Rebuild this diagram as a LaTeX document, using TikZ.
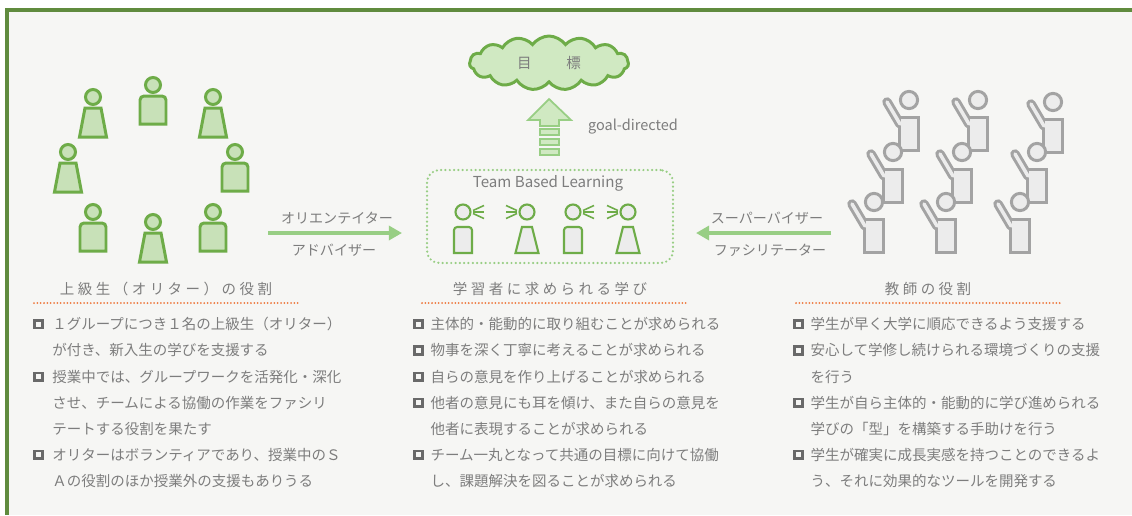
\documentclass[tikz,border=0pt]{standalone}
\usepackage{fontspec}
\setmainfont{Noto Sans CJK JP}
\newfontfamily\spacedfont[LetterSpace=24]{Noto Sans CJK JP}
\usepackage{xcolor}
\usetikzlibrary{shapes.symbols,arrows.meta,positioning}

\definecolor{frame}{RGB}{96,139,62}
\definecolor{paper}{RGB}{246,246,244}
\definecolor{leaf}{RGB}{110,172,72}
\definecolor{leaflight}{RGB}{200,225,184}
\definecolor{mint}{RGB}{152,206,132}
\definecolor{mintlight}{RGB}{208,233,194}
\definecolor{ink}{RGB}{125,125,125}
\definecolor{stone}{RGB}{163,163,163}
\definecolor{stonelight}{RGB}{236,236,236}
\definecolor{dots}{RGB}{238,122,64}
\definecolor{markgray}{RGB}{105,105,105}

% hollow square used in front of each item
\newcommand{\sqmark}{\raisebox{1.7pt}{\setlength{\fboxsep}{0pt}\setlength{\fboxrule}{1.5pt}%
  \fcolorbox{markgray}{paper}{\rule{0pt}{2.8pt}\rule{2.8pt}{0pt}}}}

\tikzset{
  % people, head centre at the pic origin
  boy/.pic={
    \path[pic actions] (0,0) circle (7.5);
    \path[pic actions] (-13,39) [rounded corners=2.3pt] -- (-13,11) -- (13,11) [sharp corners] -- (13,39) -- cycle;
  },
  girl/.pic={
    \path[pic actions] (0,0) circle (7.5);
    \path[pic actions] (-8,11) -- (8,11) -- (13.5,40) -- (-13.5,40) -- cycle;
  },
  sboy/.pic={
    \path[pic actions] (0,0) circle (7.5);
    \path[pic actions] (-9,41) [rounded corners=1.8pt] -- (-9,15) -- (9,15) [sharp corners] -- (9,41) -- cycle;
  },
  sgirl/.pic={
    \path[pic actions] (0,0) circle (7.5);
    \path[pic actions] (-5,15) -- (5,15) -- (11.5,41) -- (-11.5,41) -- cycle;
  },
  % teacher with a raised hand
  teacher/.pic={
    \draw[stone, line width=5.4pt, line cap=round] (-9,24) -- (-22,2);
    \fill[stone] (-11,15.5) rectangle (11,52);
    \draw[stonelight, line width=2pt, line cap=round] (-9,24) -- (-22,2);
    \fill[stonelight] (-8,18.5) rectangle (8,49);
    \filldraw[fill=stonelight, draw=stone, line width=1.7pt] (0,0) circle (8.6);
  },
}

\begin{document}
\begin{tikzpicture}[
    x=0.02cm, y=-0.02cm,
    every node/.style={font=\fontsize{8.25pt}{14.86pt}\selectfont, text=ink},
    ring/.style={draw=leaf, fill=leaflight, line width=1.7pt},
    team/.style={draw=leaf, fill=stonelight, line width=1.2pt},
    talk/.style={leaf, line width=0.9pt},
    feed/.style={mint, line width=2.3pt, -{Triangle[length=7.5pt, width=8pt]}},
    lbl/.style={font=\fontsize{8pt}{10pt}\selectfont},
    tblbox/.style={draw=mint, line width=1.4pt, dash pattern=on 0pt off 2.45pt, line cap=round,
      rounded corners=7pt, minimum width=4.92cm, minimum height=1.86cm},
    goalcloud/.style={cloud, cloud puffs=15, cloud puff arc=110, aspect=2.8, draw=leaf, fill=mintlight,
      line width=1.7pt, minimum width=3.18cm, minimum height=1.08cm, inner sep=0pt},
    heading/.style={font=\spacedfont\fontsize{8.25pt}{10pt}\selectfont},
    rule/.style={dots, line width=1.15pt, dash pattern=on 0pt off 1.9pt, line cap=round},
    items/.style={anchor=north west, inner sep=0pt, align=left}
  ]
  \useasboundingbox (0,0) rectangle (1132,515);
  \fill[white] (0,0) rectangle (1132,515);
  \fill[paper] (9,11.5) rectangle (1132,515);
  \fill[frame] (5,8) rectangle (1132,11.5);
  \fill[frame] (5,8) rectangle (9,515);

  % upper-year students in a ring
  \foreach \x/\y in {153/85, 235/152, 93/212, 213/212}
    \pic[ring] at (\x,\y) {boy};
  \foreach \x/\y in {93/97, 213/97, 68/152, 153/222}
    \pic[ring] at (\x,\y) {girl};

  % teaching staff
  \foreach \x/\y in {909/100, 978/100, 1053/102, 893/152, 962/152, 1037/152, 874/202, 946/202, 1020/202}
    \pic at (\x,\y) {teacher};

  % goal and team
  \node[goalcloud] (goal) at (549,63) {目\hspace{2.4em}標};
  \filldraw[draw=mint, fill=mintlight, line width=1pt]
    (549,99) -- (571,120) -- (559,120) -- (559,126) -- (540,126) -- (540,120) -- (528,120) -- cycle;
  \foreach \y in {129,139,149}
    \filldraw[draw=mint, fill=mintlight, line width=1pt] (540,\y) rectangle (559,\y+6);
  \node (aim) at (633,127) {goal-directed};

  \node[tblbox] (tbl) at (550,216.5) {};
  \node[font=\fontsize{8.6pt}{10pt}\selectfont] (tbltitle) at (548,183) {Team Based Learning};
  \pic[team] at (463,212) {sboy};
  \pic[team] at (527,212) {sgirl};
  \pic[team] at (573,212) {sboy};
  \pic[team] at (628,212) {sgirl};
  \foreach \hx/\d in {463/1, 527/-1, 573/1, 628/-1}
    \foreach \k in {-1,0,1}
      \draw[talk] (\hx+10*\d,212+1.5*\k) -- (\hx+21*\d,212+6.5*\k);

  % roles on both sides
  \coordinate (ring-out) at (268,233);
  \coordinate (tbl-left) at (402,233);
  \draw[feed] (ring-out) -- (tbl-left);
  \node[lbl] (orienter) at (337,218) {オリエンテイター};
  \node[lbl] (adviser) at (334,250) {アドバイザー};

  \coordinate (staff-out) at (831,233);
  \coordinate (tbl-right) at (696,233);
  \draw[feed] (staff-out) -- (tbl-right);
  \node[lbl] (supervisor) at (767,218) {スーパーバイザー};
  \node[lbl] (facilitator) at (770,250) {ファシリテーター};

  % three columns of notes
  \node[heading] (senior) at (166,289) {上級生（オリター）の役割};
  \node[heading] (learner) at (550,289) {学習者に求められる学び};
  \node[heading] (staff) at (928,289) {教師の役割};
  \draw[rule] (34,303) -- (299,303);
  \draw[rule] (422,303) -- (687,303);
  \draw[rule] (796,303) -- (1062,303);

  \node[items] (senior-list) at (33,311.2) {%
    \begin{tabular}{@{}l@{\hspace{5pt}}l@{}}
      \sqmark & １グループにつき１名の上級生（オリター）\\
              & が付き、新入生の学びを支援する\\
      \sqmark & 授業中では、グループワークを活発化・深化\\
              & させ、チームによる協働の作業をファシリ\\
              & テートする役割を果たす\\
      \sqmark & オリターはボランティアであり、授業中のＳ\\
              & Ａの役割のほか授業外の支援もありうる
    \end{tabular}};
  \node[items] (learner-list) at (413,311.2) {%
    \begin{tabular}{@{}l@{\hspace{4pt}}l@{}}
      \sqmark & 主体的・能動的に取り組むことが求められる\\
      \sqmark & 物事を深く丁寧に考えることが求められる\\
      \sqmark & 自らの意見を作り上げることが求められる\\
      \sqmark & 他者の意見にも耳を傾け、また自らの意見を\\
              & 他者に表現することが求められる\\
      \sqmark & チーム一丸となって共通の目標に向けて協働\\
              & し、課題解決を図ることが求められる
    \end{tabular}};
  \node[items] (staff-list) at (793,311.2) {%
    \begin{tabular}{@{}l@{\hspace{4pt}}l@{}}
      \sqmark & 学生が早く大学に順応できるよう支援する\\
      \sqmark & 安心して学修し続けられる環境づくりの支援\\
              & を行う\\
      \sqmark & 学生が自ら主体的・能動的に学び進められる\\
              & 学びの「型」を構築する手助けを行う\\
      \sqmark & 学生が確実に成長実感を持つことのできるよ\\
              & う、それに効果的なツールを開発する
    \end{tabular}};
\end{tikzpicture}
\end{document}
